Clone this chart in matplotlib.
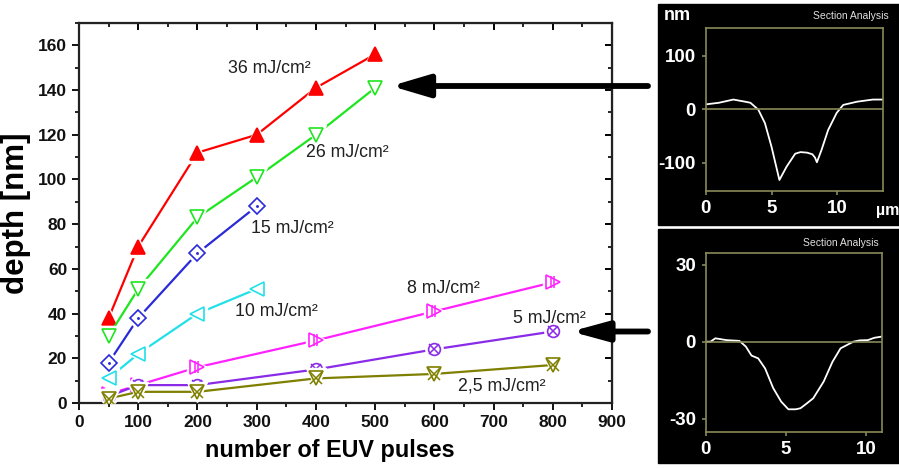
import numpy as np
import matplotlib
matplotlib.use("Agg")
import matplotlib.pyplot as plt
from matplotlib.path import Path
from matplotlib.patches import Rectangle, FancyArrowPatch
from matplotlib.ticker import MultipleLocator

plt.rcParams["axes.unicode_minus"] = False

# etch depth vs number of EUV pulses, one series per fluence
pulses_hi = [50, 100, 200, 300, 400, 500]
pulses_mid = [50, 100, 200, 300]
pulses_lo = [50, 100, 200, 400, 600, 800]

depth_36 = [38, 70, 112, 120, 141, 156]
depth_26 = [30, 51, 83, 101, 120, 141]
depth_15 = [18, 38, 67, 88]
depth_10 = [11, 22, 40, 51]
depth_8 = [4, 8, 16, 28, 41, 54]
depth_5 = [3, 8, 8, 15, 24, 32]
depth_2_5 = [2, 5, 5, 11, 13, 17]

fluence_labels = ["36 mJ/cm²", "26 mJ/cm²", "15 mJ/cm²", "10 mJ/cm²",
                  "8 mJ/cm²", "5 mJ/cm²", "2,5 mJ/cm²"]

# AFM section profiles (x in um, height in nm)
prof1_x = [0, 1.0, 2.1, 3.0, 3.4, 4.0, 4.5, 5.0, 5.6, 6.15, 6.8, 7.2, 7.7,
           8.1, 8.3, 8.45, 8.8, 9.3, 9.95, 10.45, 11.5, 12.7, 13.5]
prof1_y = [9, 12, 18, 14, 12, -1, -26, -70, -132, -107, -83, -80, -81,
           -84, -90, -99, -76, -39, -7, 8, 14, 18, 18]
prof2_x = [0, 0.3, 0.6, 1.3, 2.1, 2.5, 2.85, 3.27, 3.7, 4.2, 4.7, 5.15,
           5.6, 5.9, 6.3, 6.7, 7.35, 7.9, 8.4, 9.2, 9.6, 10.1, 10.5, 11.0]
prof2_y = [0, 0, 1.3, 0.6, 0.3, -1.9, -5.4, -6.5, -10.4, -18, -23.3, -26.3,
           -26.3, -25.9, -24, -22, -15.5, -7.8, -2.6, 0, 0.5, 0.6, 1.5, 2]

bold_font = ["Liberation Sans", "DejaVu Sans"]
text_font = ["Liberation Sans", "DejaVu Sans"]

fig = plt.figure(figsize=(8.99, 4.68), dpi=100)
ax = fig.add_axes([0.0879, 0.1389, 0.5929, 0.812])

# two vertical bars used inside the magenta triangle
bars = Path([(-0.35, -1), (-0.35, 1), (0.15, -1), (0.15, 1)],
            [Path.MOVETO, Path.LINETO, Path.MOVETO, Path.LINETO])

series = [
    (pulses_hi, depth_36, "#ff0000", "^", None, True),
    (pulses_hi, depth_26, "#1ee61e", "v", None, False),
    (pulses_mid, depth_15, "#2a2ad8", "D", ".", False),
    (pulses_mid, depth_10, "#22e0e8", "<", None, False),
    (pulses_lo, depth_8, "#ff22ff", ">", bars, False),
    (pulses_lo, depth_5, "#8a2be8", "o", "x", False),
    (pulses_lo, depth_2_5, "#7f7f00", "v", "x", False),
]

for i, (xs, ys, col, mk, extra, filled) in enumerate(series):
    z = 2 + i * 0.1
    ax.plot(xs, ys, color=col, lw=1.6, zorder=z)
    ms = 10 if mk not in ("D", "o") else 8.5
    # white halo leaves a small gap between line and marker
    ax.plot(xs, ys, ls="none", marker=mk, ms=ms + 4, mfc="white",
            mec="white", zorder=z + 0.01)
    ax.plot(xs, ys, ls="none", marker=mk, ms=ms, mew=1.2,
            mfc=col if filled else "white", mec=col, zorder=z + 0.02)
    if extra is not None:
        ax.plot(xs, ys, ls="none", marker=extra,
                ms=2 if extra == "." else ms - 1, mew=1.1, color=col,
                zorder=z + 0.03)

label_pos = [(251, 147.6), (384, 110.1), (290, 76.1), (263, 38.9),
             (553, 49.3), (733, 35.6), (640, 5.8)]
for txt, (lx, ly) in zip(fluence_labels, label_pos):
    ax.text(lx, ly, txt, ha="left", va="baseline", fontsize=12.8,
            family=text_font, color="#202020", zorder=5)

ax.set_xlim(0, 900)
ax.set_ylim(0, 170)
ax.xaxis.set_major_locator(MultipleLocator(100))
ax.xaxis.set_minor_locator(MultipleLocator(50))
ax.yaxis.set_minor_locator(MultipleLocator(10))
ax.set_yticks(np.arange(0, 161, 20))
ax.tick_params(which="major", direction="out", length=5, width=1.4,
               labelsize=12.5, colors="#111111")
ax.tick_params(which="minor", direction="out", length=3, width=1.2)
for lab in ax.get_xticklabels() + ax.get_yticklabels():
    lab.set_family(bold_font)
    lab.set_fontweight("bold")
for sp in ax.spines.values():
    sp.set_linewidth(1.6)
    sp.set_color("#222222")

# mirrored inward ticks along the top and right edges
top = ax.secondary_xaxis("top")
top.xaxis.set_major_locator(MultipleLocator(100))
top.xaxis.set_minor_locator(MultipleLocator(50))
top.tick_params(which="major", direction="in", length=5, width=1.4,
                labeltop=False)
top.tick_params(which="minor", direction="in", length=3, width=1.2)
right = ax.secondary_yaxis("right")
right.yaxis.set_major_locator(MultipleLocator(20))
right.yaxis.set_minor_locator(MultipleLocator(10))
right.tick_params(which="major", direction="in", length=5, width=1.4,
                  labelright=False)
right.tick_params(which="minor", direction="in", length=3, width=1.2)

ax.set_xlabel("number of EUV pulses", fontsize=16.8, fontweight="bold",
              family=bold_font)
ax.xaxis.set_label_coords(0.471, -0.095)
ax.set_ylabel("depth [nm]", fontsize=22.5, fontweight="bold",
              family=bold_font, labelpad=5)

# black panels holding the AFM section profiles
olive = "#8a8a58"
fig.add_artist(Rectangle((0.7319, 0.5192), 0.2681, 0.4722,
                         transform=fig.transFigure, color="black", zorder=0))
fig.add_artist(Rectangle((0.7319, 0.0107), 0.2681, 0.5,
                         transform=fig.transFigure, color="black", zorder=0))


def profile_axes(rect, xs, ys, xlim, ylim, yticks):
    a = fig.add_axes(rect, facecolor="black")
    a.plot(xs, ys, color="white", lw=1.3)
    a.axhline(0, color=olive, lw=1.2)
    a.set_xlim(*xlim)
    a.set_ylim(*ylim)
    a.set_xticks([0, 5, 10])
    a.set_yticks(yticks)
    for sp in a.spines.values():
        sp.set_color(olive)
        sp.set_linewidth(1.2)
    a.tick_params(direction="out", length=3, width=1.2, color=olive,
                  labelcolor="white", labelsize=13.5, pad=4)
    for lab in a.get_xticklabels() + a.get_yticklabels():
        lab.set_fontweight("bold")
        lab.set_family(text_font)
    return a


a1 = profile_axes([0.785, 0.5925, 0.1976, 0.3483], prof1_x, prof1_y,
                  (0, 13.5), (-152, 152), [-100, 0, 100])
a2 = profile_axes([0.785, 0.0776, 0.1964, 0.3825], prof2_x, prof2_y,
                  (0, 11.0), (-35, 34.6), [-30, 0, 30])

fig.text(664 / 899, 1 - 16 / 468, "nm", color="white", fontsize=13,
         fontweight="bold", family=text_font, va="center")
fig.text(876 / 899, 1 - 210 / 468, "µm", color="white", fontsize=11.5,
         fontweight="bold", family=text_font, va="center")
fig.text(813 / 899, 1 - 16 / 468, "Section Analysis", color="#e0e0e0",
         fontsize=7.5, family=text_font, va="center")
fig.text(803 / 899, 1 - 243 / 468, "Section Analysis", color="#e0e0e0",
         fontsize=7.5, family=text_font, va="center")

# thick arrows pointing from the profiles to the measured points
for y_px, tip_x, hl, hw in [(86, 391, 2.3, 0.68), (331.5, 571, 2.2, 0.6)]:
    fig.add_artist(FancyArrowPatch(
        (648, 468 - y_px), (tip_x, 468 - y_px), transform=None,
        arrowstyle=f"-|>,head_length={hl},head_width={hw}",
        mutation_scale=10, lw=4.2, color="black", shrinkA=0, shrinkB=0,
        zorder=10))

fig.savefig("out.png", dpi=100)
